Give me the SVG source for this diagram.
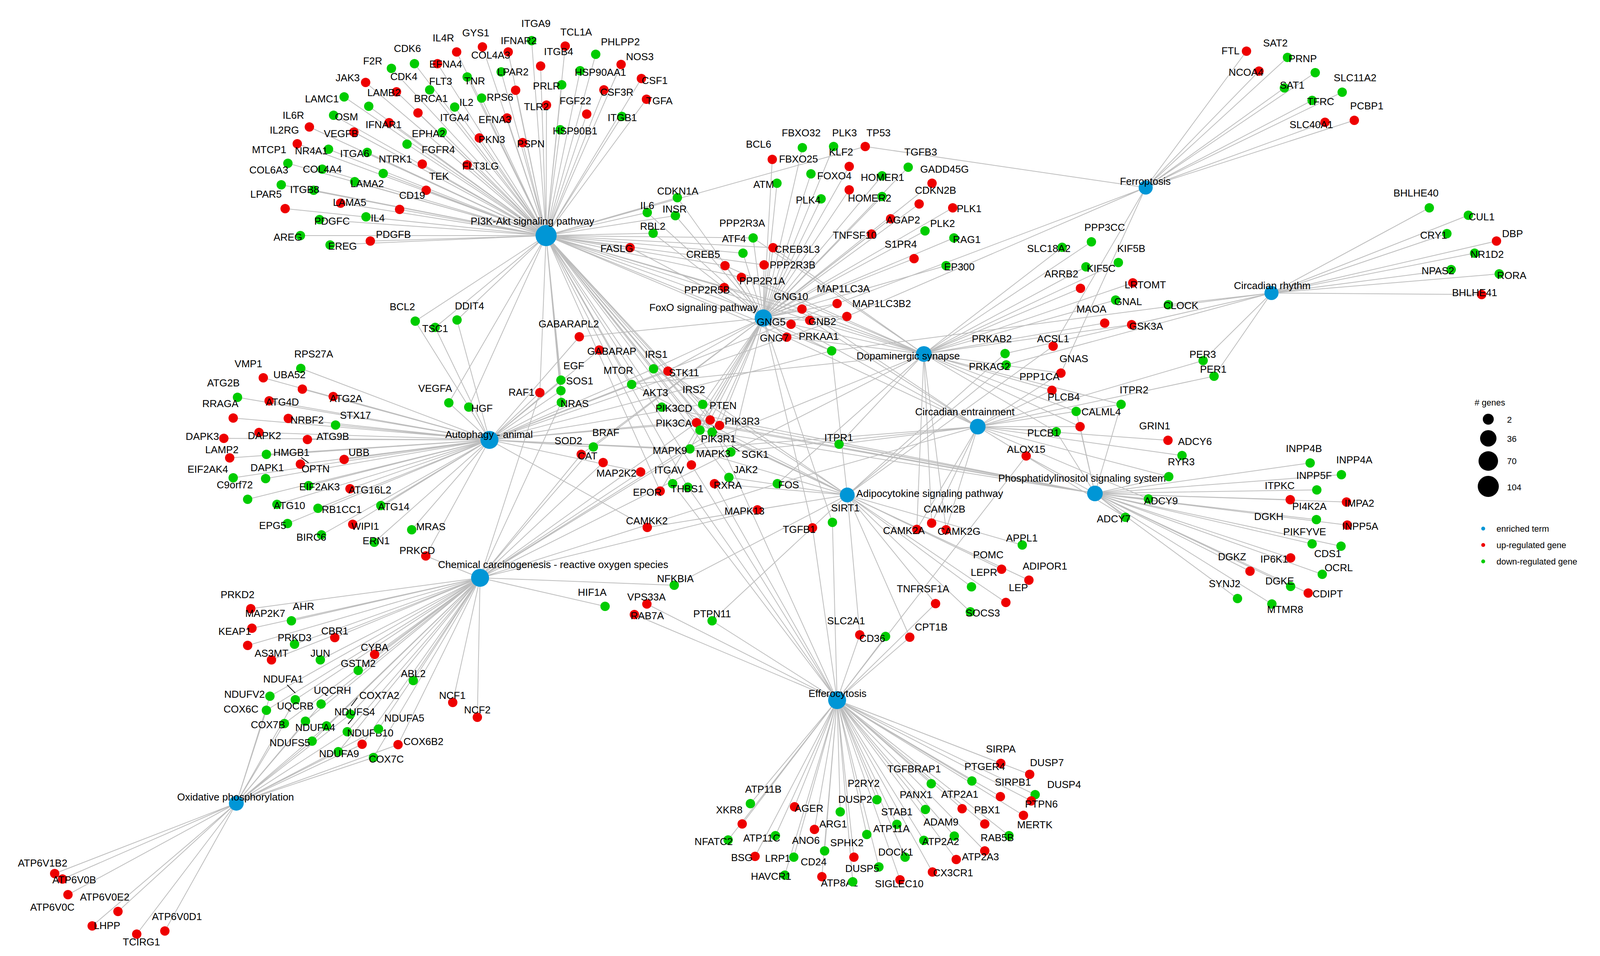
<svg xmlns="http://www.w3.org/2000/svg" width="4368" height="2447" viewBox="0 0 4368 2447">
<style>
text{font-family:"Liberation Sans",Arial,sans-serif;font-size:26px;text-anchor:middle;dominant-baseline:central;fill:#000}
.u{fill:#ee0000}.d{fill:#00cc00}.t{fill:#0096d6}
.e{stroke:#bdbdbd;stroke-width:2;fill:none}
.k{stroke:#000;stroke-width:2}
.lg text{text-anchor:start;font-size:22px}
</style>
<rect width="4368" height="2447" fill="#fff"/>
<g id="edges" class="e">
<path id="e-P" d="M1398 603L1169 133M1398 603L1235 120M1398 603L1301 133M1398 603L1447 118M1398 603L1384 169M1398 603L1590 165M1398 603L1120 163M1398 603L936 211M1398 603L1642 201M1398 603L1015 235M1398 603L1320 231M1398 603L1546 230M1398 603L1655 254M1398 603L1399 269M1398 603L1070 289M1398 603L1502 292M1398 603L1298 302M1398 603L996 314M1398 603L792 325M1398 603L906 338M1398 603L1227 353M1398 603L1338 365M1398 603L761 368M1398 603L1081 420M1398 603L1196 422M1398 603L1091 487M1398 603L1023 536M1398 603L872 520M1398 603L730 534M1398 603L948 617M1398 603L1613 634M1398 603L1361 104M1398 603L1525 139M1398 603L1061 163M1398 603L1002 175M1398 603L1283 184M1398 603L1485 181M1398 603L1196 197M1398 603L1438 217M1398 603L1100 230M1398 603L881 248M1398 603L944 272M1398 603L1233 251M1398 603L1164 274M1398 603L854 295M1398 603L1592 298M1398 603L1132 338M1398 603L1434 332M1398 603L1042 369M1398 603L841 382M1398 603L940 390M1398 603L737 418M1398 603L981 444M1398 603L825 433M1398 603L908 465M1398 603L720 473M1398 603L803 487M1398 603L937 555M1398 603L818 562M1398 603L769 603M1398 603L845 627M1398 603L1734 506M1398 603L1657 544M1398 603L1729 552M1398 603L1672 597M1398 603L1928 609M1398 603L1979 634M1398 603L1902 648M1398 603L1856 680M1398 603L1956 678M1398 603L1898 710M1398 603L1854 736M1398 603L2025 830M1398 603L2014 863M1398 603L2073 820M1398 603L2053 791M1398 603L1673 944M1398 603L1617 984M1398 603L1799 1035M1398 603L1694 1042M1398 603L1783 1082M1398 603L1818 1075M1398 603L1842 1089M1398 603L1792 1101M1398 603L1823 1106M1398 603L1063 822M1398 603L1200 1042M1398 603L1149 1031M1398 603L1436 973M1398 603L1436 1000M1398 603L1437 1030M1398 603L1382 1005M1398 603L1871 1157M1398 603L1770 1190M1398 603L1761 1247M1398 603L1722 1238M1398 603L1866 1222M1398 603L1690 1257M1398 603L1114 838M1398 603L1170 819M1398 603L2129 898M1398 603L2215 375"/>
<path id="e-F" d="M1954 814L2054 378M1954 814L2134 375M1954 814L1977 408M1954 814L2174 426M1954 814L2076 445M1954 814L1989 469M1954 814L2174 486M1954 814L2102 509M1954 814L2353 522M1954 814L2439 532M1954 814L2386 469M1954 814L2325 428M1954 814L2368 591M1954 814L2442 609M1954 814L1734 506M1954 814L1657 544M1954 814L1729 552M1954 814L1672 597M1954 814L1613 634M1954 814L1928 609M1954 814L1979 634M1954 814L1902 648M1954 814L1856 680M1954 814L1956 678M1954 814L1898 710M1954 814L1854 736M1954 814L2280 560M1954 814L2231 599M1954 814L2340 662M1954 814L2422 680M1954 814L2258 450M1954 814L2258 503M1954 814L2143 777M1954 814L2168 810M1954 814L2053 791M1954 814L2073 820M1954 814L2025 830M1954 814L2014 863M1954 814L2129 898M1954 814L1673 944M1954 814L1710 950M1954 814L1799 1035M1954 814L1783 1082M1954 814L1818 1075M1954 814L1842 1089M1954 814L1792 1101M1954 814L1823 1106M1954 814L1766 1149M1954 814L1871 1157M1954 814L2080 1351M1954 814L2131 1337M1954 814L1488 1163M1954 814L1519 1144M1954 814L1483 862M1954 814L1690 1257"/>
<path id="e-D" d="M2365 906L2025 830M2365 906L2014 863M2365 906L2073 820M2365 906L2053 791M2365 906L1898 710M2365 906L1854 736M2365 906L1856 680M2365 906L1928 609M2365 906L1979 634M2365 906L2693 999M2365 906L2716 955M2365 906L2704 1105M2365 906L2755 1053M2365 906L2148 1137M2365 906L2870 1035M2365 906L2863 672M2365 906L2780 683M2365 906L2719 633M2365 906L2794 619M2365 906L2766 738M2365 906L2856 768M2365 906L2828 827M2365 906L2897 831M2365 906L2900 724M2365 906L2385 1339M2365 906L2347 1355M2365 906L2422 1356M2365 906L1766 1149M2365 906L1871 1157M2365 906L1990 1238M2365 906L2765 1092M2365 906L1617 984"/>
<path id="e-CE" d="M2503 1092L2025 830M2503 1092L2014 863M2503 1092L2073 820M2503 1092L2053 791M2503 1092L2148 1137M2503 1092L2870 1035M2503 1092L3080 923M2503 1092L3108 963M2503 1092L2704 1105M2503 1092L2693 999M2503 1092L2716 955M2503 1092L2755 1053M2503 1092L2990 1127M2503 1092L3026 1166M2503 1092L2992 1220M2503 1092L2385 1339M2503 1092L2347 1355M2503 1092L2422 1356M2503 1092L1990 1238M2503 1092L1871 1157M2503 1092L2765 1092M2503 1092L2940 1277M2503 1092L2881 1324M2503 1092L1766 1149"/>
<path id="e-PS" d="M2803 1263L1783 1082M2803 1263L1694 1042M2803 1263L1823 1106M2803 1263L1842 1089M2803 1263L1818 1075M2803 1263L1792 1101M2803 1263L2148 1137M2803 1263L2870 1035M2803 1263L2704 1105M2803 1263L2765 1092M2803 1263L2755 1053M2803 1263L2627 1167M2803 1263L3354 1185M2803 1263L3434 1215M2803 1263L3371 1254M2803 1263L3303 1279M2803 1263L3447 1285M2803 1263L3370 1330M2803 1263L3449 1344M2803 1263L3359 1392M2803 1263L3433 1398M2803 1263L3385 1470M2803 1263L3304 1428M2803 1263L3200 1462M2803 1263L3304 1501M2803 1263L3349 1518M2803 1263L3256 1546M2803 1263L3168 1532M2803 1263L2992 1220M2803 1263L2940 1277M2803 1263L2881 1324"/>
<path id="e-A" d="M1253 1126L770 943M1253 1126L674 967M1253 1126L774 996M1253 1126L608 1017M1253 1126L853 1015M1253 1126L689 1026M1253 1126L597 1070M1253 1126L738 1071M1253 1126L859 1088M1253 1126L573 1122M1253 1126L663 1107M1253 1126L787 1125M1253 1126L588 1172M1253 1126L682 1163M1253 1126L881 1176M1253 1126L769 1188M1253 1126L680 1225M1253 1126L597 1223M1253 1126L790 1243M1253 1126L896 1251M1253 1126L634 1278M1253 1126L709 1291M1253 1126L814 1301M1253 1126L975 1294M1253 1126L736 1340M1253 1126L903 1342M1253 1126L1054 1356M1253 1126L823 1369M1253 1126L958 1388M1253 1126L1090 1423M1253 1126L1483 862M1253 1126L1534 896M1253 1126L1382 1005M1253 1126L1437 1030M1253 1126L1436 973M1253 1126L1436 1000M1253 1126L1617 984M1253 1126L1673 944M1253 1126L1710 950M1253 1126L1783 1082M1253 1126L1818 1075M1253 1126L1871 1157M1253 1126L1766 1149M1253 1126L2129 898M1253 1126L2143 777M1253 1126L2168 810M1253 1126L1063 822M1253 1126L1114 838M1253 1126L1170 819M1253 1126L1200 1042M1253 1126L1149 1031M1253 1126L1657 1350M1253 1126L1799 1035M1253 1126L1640 1208M1253 1126L1519 1144"/>
<path id="e-AD" d="M2169 1267L2129 898M2169 1267L2573 905M2169 1267L2576 934M2169 1267L2696 886M2169 1267L1657 1350M2169 1267L2395 1545M2169 1267L2487 1502M2169 1267L2575 1542M2169 1267L2564 1457M2169 1267L2634 1485M2169 1267L2617 1395M2169 1267L2484 1566M2169 1267L2329 1631M2169 1267L2201 1625M2169 1267L1726 1498M2169 1267L1823 1589M2169 1267L1829 1238M2169 1267L1866 1222M2169 1267L1766 1149M2169 1267L1673 944M2169 1267L1783 1082M2169 1267L1823 1106M2169 1267L1617 984M2169 1267L1710 950"/>
<path id="e-C" d="M1229 1479L642 1558M1229 1479L645 1608M1229 1479L746 1589M1229 1479L634 1652M1229 1479L754 1649M1229 1479L857 1632M1229 1479L695 1689M1229 1479L820 1689M1229 1479L959 1675M1229 1479L917 1716M1229 1479L1058 1742M1229 1479L756 1791M1229 1479L691 1782M1229 1479L822 1802M1229 1479L897 1828M1229 1479L889 1873M1229 1479L682 1818M1229 1479L728 1852M1229 1479L782 1846M1229 1479L836 1858M1229 1479L969 1866M1229 1479L799 1897M1229 1479L927 1905M1229 1479L1019 1906M1229 1479L866 1924M1229 1479L956 1939M1229 1479L1159 1798M1229 1479L1222 1836M1229 1479L1871 1157M1229 1479L1766 1149M1229 1479L1939 1305M1229 1479L1519 1144M1229 1479L1488 1163M1229 1479L1640 1208M1229 1479L1544 1184M1229 1479L1549 1552M1229 1479L1726 1498M1229 1479L1783 1082M1229 1479L1823 1106M1229 1479L1090 1423M1229 1479L1990 1238M1229 1479L1382 1005M1229 1479L1437 1030"/>
<path id="e-O" d="M605 2056L756 1791M605 2056L691 1782M605 2056L822 1802M605 2056L897 1828M605 2056L889 1873M605 2056L682 1818M605 2056L728 1852M605 2056L782 1846M605 2056L836 1858M605 2056L969 1866M605 2056L799 1897M605 2056L927 1905M605 2056L1019 1906M605 2056L866 1924M605 2056L956 1939M605 2056L140 2236M605 2056L160 2250M605 2056L174 2290M605 2056L302 2333M605 2056L236 2370M605 2056L350 2391M605 2056L422 2383"/>
<path id="e-E" d="M2143 1792L2562 1954M2143 1792L2636 1982M2143 1792L2488 1999M2143 1792L2561 2039M2143 1792L2650 2034M2143 1792L2384 2006M2143 1792L2245 2047M2143 1792L2640 2050M2143 1792L2369 2072M2143 1792L2463 2070M2143 1792L2620 2087M2143 1792L2521 2109M2143 1792L1921 2057M2143 1792L2151 2078M2143 1792L1900 2109M2143 1792L2034 2065M2143 1792L2296 2110M2143 1792L2443 2140M2143 1792L2085 2123M2143 1792L2219 2136M2143 1792L2583 2139M2143 1792L1864 2150M2143 1792L1985 2139M2143 1792L2111 2178M2143 1792L2365 2151M2143 1792L2521 2178M2143 1792L2448 2200M2143 1792L2317 2194M2143 1792L1933 2192M2143 1792L2032 2194M2143 1792L2186 2194M2143 1792L2250 2219M2143 1792L2387 2232M2143 1792L2009 2240M2143 1792L2104 2244M2143 1792L2183 2257M2143 1792L2304 2252M2143 1792L1624 1573M2143 1792L1656 1546M2143 1792L1823 1589M2143 1792L2201 1625M2143 1792L2267 1629M2143 1792L2329 1631M2143 1792L2080 1351M2143 1792L2131 1337M2143 1792L1770 1190M2143 1792L1761 1247M2143 1792L1829 1238M2143 1792L2627 1167M2143 1792L1799 1035M2143 1792L1722 1238M2143 1792L2395 1545"/>
<path id="e-FE" d="M2933 480L3191 131M2933 480L3296 147M2933 480L3223 182M2933 480L3367 186M2933 480L3436 236M2933 480L3288 225M2933 480L3359 257M2933 480L3467 308M2933 480L3392 313M2933 480L2215 375M2933 480L2696 886M2933 480L2716 955M2933 480L2143 777M2933 480L2168 810"/>
<path id="e-CR" d="M3255 750L3659 532M3255 750L3759 551M3255 750L3704 598M3255 750L3831 617M3255 750L3775 648M3255 750L3715 690M3255 750L3838 701M3255 750L3793 754M3255 750L2991 780M3255 750L3080 923M3255 750L3108 963M3255 750L2897 831M3255 750L2573 905M3255 750L2576 934M3255 750L2129 898"/>
</g>
<g id="leaders" class="k">
<line x1="735" y1="1753" x2="756" y2="1774"/><line x1="899" y1="1807" x2="915" y2="1786"/><line x1="891" y1="1853" x2="905" y2="1836"/><line x1="771" y1="1171" x2="790" y2="1185"/><line x1="1874" y1="1142" x2="1893" y2="1155"/><line x1="1826" y1="1091" x2="1836" y2="1107"/>
</g>
<g id="terms">
<g id="t-pi3k"><circle class="t" cx="1398" cy="603" r="27"/><text x="1363" y="566">PI3K-Akt signaling pathway</text></g>
<g id="t-foxo"><circle class="t" cx="1954" cy="814" r="22"/><text x="1801" y="787">FoxO signaling pathway</text></g>
<g id="t-dopa"><circle class="t" cx="2365" cy="906" r="20"/><text x="2325" y="911">Dopaminergic synapse</text></g>
<g id="t-circent"><circle class="t" cx="2503" cy="1092" r="20"/><text x="2470" y="1054">Circadian entrainment</text></g>
<g id="t-phos"><circle class="t" cx="2803" cy="1263" r="20"/><text x="2770" y="1224">Phosphatidylinositol signaling system</text></g>
<g id="t-adipo"><circle class="t" cx="2169" cy="1267" r="19"/><text x="2380" y="1263">Adipocytokine signaling pathway</text></g>
<g id="t-effero"><circle class="t" cx="2143" cy="1792" r="23"/><text x="2144" y="1775">Efferocytosis</text></g>
<g id="t-chem"><circle class="t" cx="1229" cy="1479" r="23"/><text x="1416" y="1445">Chemical carcinogenesis - reactive oxygen species</text></g>
<g id="t-auto"><circle class="t" cx="1253" cy="1126" r="23"/><text x="1252" y="1112">Autophagy - animal</text></g>
<g id="t-oxphos"><circle class="t" cx="605" cy="2056" r="19"/><text x="603" y="2040">Oxidative phosphorylation</text></g>
<g id="t-ferro"><circle class="t" cx="2933" cy="480" r="18"/><text x="2932" y="464">Ferroptosis</text></g>
<g id="t-circ"><circle class="t" cx="3255" cy="750" r="18"/><text x="3257" y="731">Circadian rhythm</text></g>
</g>
<g id="genes">
<g id="IL4R"><circle class="u" cx="1169" cy="133" r="12"/><text x="1135" y="97">IL4R</text></g>
<g id="GYS1"><circle class="u" cx="1235" cy="120" r="12"/><text x="1218" y="84">GYS1</text></g>
<g id="COL4A3"><circle class="u" cx="1301" cy="133" r="12"/><text x="1256" y="141">COL4A3</text></g>
<g id="TCL1A"><circle class="u" cx="1447" cy="118" r="12"/><text x="1475" y="82">TCL1A</text></g>
<g id="ITGB4"><circle class="u" cx="1384" cy="169" r="12"/><text x="1430" y="132">ITGB4</text></g>
<g id="NOS3"><circle class="u" cx="1590" cy="165" r="12"/><text x="1638" y="145">NOS3</text></g>
<g id="EFNA4"><circle class="u" cx="1120" cy="163" r="12"/><text x="1141" y="164">EFNA4</text></g>
<g id="JAK3"><circle class="u" cx="936" cy="211" r="12"/><text x="890" y="199">JAK3</text></g>
<g id="CSF1"><circle class="u" cx="1642" cy="201" r="12"/><text x="1676" y="206">CSF1</text></g>
<g id="LAMB2"><circle class="u" cx="1015" cy="235" r="12"/><text x="983" y="237">LAMB2</text></g>
<g id="p-r1"><circle class="u" cx="1320" cy="231" r="12"/></g>
<g id="CSF3R"><circle class="u" cx="1546" cy="230" r="12"/><text x="1579" y="236">CSF3R</text></g>
<g id="TGFA"><circle class="u" cx="1655" cy="254" r="12"/><text x="1688" y="258">TGFA</text></g>
<g id="TLR2"><circle class="u" cx="1399" cy="269" r="12"/><text x="1373" y="273">TLR2</text></g>
<g id="BRCA1"><circle class="u" cx="1070" cy="289" r="12"/><text x="1103" y="252">BRCA1</text></g>
<g id="FGF22"><circle class="u" cx="1502" cy="292" r="12"/><text x="1473" y="258">FGF22</text></g>
<g id="EFNA3"><circle class="u" cx="1298" cy="302" r="12"/><text x="1267" y="306">EFNA3</text></g>
<g id="IFNAR1"><circle class="u" cx="996" cy="314" r="12"/><text x="982" y="319">IFNAR1</text></g>
<g id="IL6R"><circle class="u" cx="792" cy="325" r="12"/><text x="751" y="295">IL6R</text></g>
<g id="VEGFB"><circle class="u" cx="906" cy="338" r="12"/><text x="873" y="342">VEGFB</text></g>
<g id="PKN3"><circle class="u" cx="1227" cy="353" r="12"/><text x="1259" y="357">PKN3</text></g>
<g id="PSPN"><circle class="u" cx="1338" cy="365" r="12"/><text x="1359" y="368">PSPN</text></g>
<g id="MTCP1"><circle class="u" cx="761" cy="368" r="12"/><text x="689" y="383">MTCP1</text></g>
<g id="NTRK1"><circle class="u" cx="1081" cy="420" r="12"/><text x="1012" y="407">NTRK1</text></g>
<g id="FLT3LG"><circle class="u" cx="1196" cy="422" r="12"/><text x="1230" y="425">FLT3LG</text></g>
<g id="CD19"><circle class="u" cx="1091" cy="487" r="12"/><text x="1055" y="500">CD19</text></g>
<g id="p-r2"><circle class="u" cx="1023" cy="536" r="12"/></g>
<g id="LAMA5"><circle class="u" cx="872" cy="520" r="12"/><text x="895" y="518">LAMA5</text></g>
<g id="LPAR5"><circle class="u" cx="730" cy="534" r="12"/><text x="681" y="497">LPAR5</text></g>
<g id="PDGFB"><circle class="u" cx="948" cy="617" r="12"/><text x="1007" y="600">PDGFB</text></g>
<g id="FASLG"><circle class="u" cx="1613" cy="634" r="12"/><text x="1579" y="636">FASLG</text></g>
<g id="ITGA9"><circle class="d" cx="1361" cy="104" r="12"/><text x="1372" y="60">ITGA9</text></g>
<g id="IFNAR2"><text x="1328" y="104">IFNAR2</text></g>
<g id="PHLPP2"><circle class="d" cx="1525" cy="139" r="12"/><text x="1588" y="107">PHLPP2</text></g>
<g id="CDK6"><circle class="d" cx="1061" cy="163" r="12"/><text x="1043" y="124">CDK6</text></g>
<g id="F2R"><circle class="d" cx="1002" cy="175" r="12"/><text x="954" y="156">F2R</text></g>
<g id="LPAR2"><circle class="d" cx="1283" cy="184" r="12"/><text x="1313" y="184">LPAR2</text></g>
<g id="HSP90AA1"><circle class="d" cx="1485" cy="181" r="12"/><text x="1537" y="185">HSP90AA1</text></g>
<g id="TNR"><circle class="d" cx="1196" cy="197" r="12"/><text x="1215" y="207">TNR</text></g>
<g id="PRLR"><circle class="d" cx="1438" cy="217" r="12"/><text x="1399" y="220">PRLR</text></g>
<g id="FLT3"><circle class="d" cx="1100" cy="230" r="12"/><text x="1128" y="208">FLT3</text></g>
<g id="CDK4"><text x="1034" y="196">CDK4</text></g>
<g id="LAMC1"><circle class="d" cx="881" cy="248" r="12"/><text x="824" y="253">LAMC1</text></g>
<g id="p-g1"><circle class="d" cx="944" cy="272" r="12"/></g>
<g id="RPS6"><circle class="d" cx="1233" cy="251" r="12"/><text x="1280" y="249">RPS6</text></g>
<g id="IL2"><circle class="d" cx="1164" cy="274" r="12"/><text x="1194" y="262">IL2</text></g>
<g id="OSM"><circle class="d" cx="854" cy="295" r="12"/><text x="887" y="299">OSM</text></g>
<g id="ITGA4"><text x="1164" y="301">ITGA4</text></g>
<g id="ITGB1"><circle class="d" cx="1592" cy="298" r="12"/><text x="1593" y="301">ITGB1</text></g>
<g id="IL2RG"><text x="728" y="333">IL2RG</text></g>
<g id="EPHA2"><circle class="d" cx="1132" cy="338" r="12"/><text x="1097" y="342">EPHA2</text></g>
<g id="HSP90B1"><circle class="d" cx="1434" cy="332" r="12"/><text x="1472" y="335">HSP90B1</text></g>
<g id="FGFR4"><circle class="d" cx="1042" cy="369" r="12"/><text x="1122" y="383">FGFR4</text></g>
<g id="NR4A1"><circle class="d" cx="841" cy="382" r="12"/><text x="797" y="386">NR4A1</text></g>
<g id="ITGA6"><circle class="d" cx="940" cy="390" r="12"/><text x="908" y="393">ITGA6</text></g>
<g id="COL6A3"><circle class="d" cx="737" cy="418" r="12"/><text x="688" y="435">COL6A3</text></g>
<g id="COL4A4"><circle class="d" cx="825" cy="433" r="12"/><text x="825" y="433">COL4A4</text></g>
<g id="p-g2"><circle class="d" cx="981" cy="444" r="12"/></g>
<g id="TEK"><text x="1124" y="451">TEK</text></g>
<g id="LAMA2"><circle class="d" cx="908" cy="465" r="12"/><text x="940" y="470">LAMA2</text></g>
<g id="p-g3"><circle class="d" cx="720" cy="473" r="12"/></g>
<g id="ITGB8"><circle class="d" cx="803" cy="487" r="12"/><text x="780" y="485">ITGB8</text></g>
<g id="IL4"><circle class="d" cx="937" cy="555" r="12"/><text x="967" y="558">IL4</text></g>
<g id="PDGFC"><circle class="d" cx="818" cy="562" r="12"/><text x="850" y="566">PDGFC</text></g>
<g id="AREG"><circle class="d" cx="769" cy="603" r="12"/><text x="737" y="607">AREG</text></g>
<g id="EREG"><circle class="d" cx="845" cy="627" r="12"/><text x="877" y="630">EREG</text></g>

<g id="FBXO32"><circle class="d" cx="2054" cy="378" r="12"/><text x="2051" y="340">FBXO32</text></g>
<g id="KLF2"><circle class="d" cx="2134" cy="375" r="12"/><text x="2153" y="389">KLF2</text></g>
<g id="PLK3"><text x="2162" y="340">PLK3</text></g>
<g id="TP53"><circle class="u" cx="2215" cy="375" r="12"/><text x="2249" y="340">TP53</text></g>
<g id="BCL6"><text x="1942" y="369">BCL6</text></g>
<g id="FBXO25"><circle class="u" cx="1977" cy="408" r="12"/><text x="2044" y="407">FBXO25</text></g>
<g id="TGFB3"><circle class="d" cx="2325" cy="428" r="12"/><text x="2357" y="389">TGFB3</text></g>
<g id="f-r1"><circle class="u" cx="2174" cy="426" r="12"/></g>
<g id="FOXO4"><circle class="d" cx="2076" cy="445" r="12"/><text x="2136" y="450">FOXO4</text></g>
<g id="ATM"><circle class="d" cx="1989" cy="469" r="12"/><text x="1955" y="472">ATM</text></g>
<g id="HOMER1"><circle class="d" cx="2258" cy="450" r="12"/><text x="2259" y="454">HOMER1</text></g>
<g id="GADD45G"><circle class="u" cx="2386" cy="469" r="12"/><text x="2418" y="433">GADD45G</text></g>
<g id="f-r2"><circle class="u" cx="2174" cy="486" r="12"/></g>
<g id="PLK4"><circle class="d" cx="2102" cy="509" r="12"/><text x="2069" y="512">PLK4</text></g>
<g id="HOMER2"><circle class="d" cx="2258" cy="503" r="12"/><text x="2226" y="507">HOMER2</text></g>
<g id="CDKN2B"><circle class="u" cx="2353" cy="522" r="12"/><text x="2395" y="487">CDKN2B</text></g>
<g id="PLK1"><circle class="u" cx="2439" cy="532" r="12"/><text x="2481" y="534">PLK1</text></g>
<g id="CDKN1A"><circle class="d" cx="1734" cy="506" r="12"/><text x="1735" y="489">CDKN1A</text></g>
<g id="IL6"><circle class="d" cx="1657" cy="544" r="12"/><text x="1657" y="526">IL6</text></g>
<g id="INSR"><circle class="d" cx="1729" cy="552" r="12"/><text x="1727" y="535">INSR</text></g>
<g id="AGAP2"><circle class="u" cx="2280" cy="560" r="12"/><text x="2312" y="563">AGAP2</text></g>
<g id="PLK2"><circle class="d" cx="2368" cy="591" r="12"/><text x="2413" y="572">PLK2</text></g>
<g id="RAG1"><circle class="d" cx="2442" cy="609" r="12"/><text x="2475" y="613">RAG1</text></g>
<g id="RBL2"><circle class="d" cx="1672" cy="597" r="12"/><text x="1671" y="579">RBL2</text></g>
<g id="PPP2R3A"><text x="1900" y="571">PPP2R3A</text></g>
<g id="ATF4"><circle class="d" cx="1928" cy="609" r="12"/><text x="1879" y="611">ATF4</text></g>
<g id="TNFSF10"><circle class="u" cx="2231" cy="599" r="12"/><text x="2188" y="602">TNFSF10</text></g>
<g id="S1PR4"><circle class="u" cx="2340" cy="662" r="12"/><text x="2306" y="625">S1PR4</text></g>
<g id="CREB3L3"><circle class="u" cx="1979" cy="634" r="12"/><text x="2041" y="638">CREB3L3</text></g>
<g id="f-g1"><circle class="d" cx="1902" cy="648" r="12"/></g>
<g id="CREB5"><circle class="u" cx="1856" cy="680" r="12"/><text x="1800" y="651">CREB5</text></g>
<g id="PPP2R3B"><circle class="u" cx="1956" cy="678" r="12"/><text x="2029" y="678">PPP2R3B</text></g>
<g id="EP300"><circle class="d" cx="2422" cy="680" r="12"/><text x="2456" y="683">EP300</text></g>
<g id="PPP2R1A"><circle class="u" cx="1898" cy="710" r="12"/><text x="1951" y="719">PPP2R1A</text></g>
<g id="PPP2R5B"><circle class="u" cx="1854" cy="736" r="12"/><text x="1810" y="742">PPP2R5B</text></g>
<g id="MAP1LC3A"><circle class="u" cx="2143" cy="777" r="12"/><text x="2159" y="739">MAP1LC3A</text></g>
<g id="MAP1LC3B2"><circle class="u" cx="2168" cy="810" r="12"/><text x="2257" y="777">MAP1LC3B2</text></g>
<g id="GNG10"><circle class="u" cx="2053" cy="791" r="12"/><text x="2025" y="759">GNG10</text></g>
<g id="GNB2"><circle class="u" cx="2073" cy="820" r="12"/><text x="2105" y="823">GNB2</text></g>
<g id="GNG5"><circle class="u" cx="2025" cy="830" r="12"/><text x="1974" y="824">GNG5</text></g>
<g id="GNG7"><circle class="u" cx="2014" cy="863" r="12"/><text x="1982" y="865">GNG7</text></g>
<g id="PRKAA1"><circle class="d" cx="2129" cy="898" r="12"/><text x="2096" y="861">PRKAA1</text></g>
<g id="IRS1"><circle class="d" cx="1673" cy="944" r="12"/><text x="1680" y="907">IRS1</text></g>
<g id="STK11"><circle class="u" cx="1710" cy="950" r="12"/><text x="1751" y="954">STK11</text></g>
<g id="MTOR"><circle class="d" cx="1617" cy="984" r="12"/><text x="1583" y="948">MTOR</text></g>
<g id="AKT3"><text x="1678" y="1005">AKT3</text></g>
<g id="IRS2"><text x="1776" y="997">IRS2</text></g>
<g id="PTEN"><circle class="d" cx="1799" cy="1035" r="12"/><text x="1851" y="1038">PTEN</text></g>
<g id="PIK3CD"><circle class="d" cx="1694" cy="1042" r="12"/><text x="1725" y="1045">PIK3CD</text></g>
<g id="PIK3CA"><circle class="u" cx="1783" cy="1082" r="12"/><text x="1725" y="1083">PIK3CA</text></g>
<g id="c-r1"><circle class="u" cx="1818" cy="1075" r="12"/></g>
<g id="PIK3R3"><circle class="u" cx="1842" cy="1089" r="12"/><text x="1900" y="1078">PIK3R3</text></g>
<g id="c-g1"><circle class="d" cx="1792" cy="1101" r="12"/></g>
<g id="PIK3R1"><circle class="d" cx="1823" cy="1106" r="12"/><text x="1839" y="1123">PIK3R1</text></g>
<g id="MAPK9"><circle class="d" cx="1766" cy="1149" r="12"/><text x="1715" y="1153">MAPK9</text></g>
<g id="MAPK3"><circle class="d" cx="1871" cy="1157" r="12"/><text x="1826" y="1161">MAPK3</text></g>
<g id="SGK1"><text x="1933" y="1163">SGK1</text></g>
<g id="ITPR1"><circle class="d" cx="2148" cy="1137" r="12"/><text x="2147" y="1120">ITPR1</text></g>
<g id="ITGAV"><circle class="u" cx="1770" cy="1190" r="12"/><text x="1713" y="1203">ITGAV</text></g>
<g id="MAP2K2"><circle class="u" cx="1640" cy="1208" r="12"/><text x="1578" y="1211">MAP2K2</text></g>
<g id="JAK2"><circle class="d" cx="1866" cy="1222" r="12"/><text x="1909" y="1202">JAK2</text></g>
<g id="c-g2"><circle class="d" cx="1722" cy="1238" r="12"/></g>
<g id="THBS1"><circle class="d" cx="1761" cy="1247" r="12"/><text x="1759" y="1251">THBS1</text></g>
<g id="RXRA"><circle class="u" cx="1829" cy="1238" r="12"/><text x="1863" y="1242">RXRA</text></g>
<g id="FOS"><circle class="d" cx="1990" cy="1238" r="12"/><text x="2019" y="1241">FOS</text></g>
<g id="EPOR"><circle class="u" cx="1690" cy="1257" r="12"/><text x="1657" y="1260">EPOR</text></g>
<g id="EGF"><circle class="d" cx="1436" cy="973" r="12"/><text x="1469" y="936">EGF</text></g>
<g id="SOS1"><circle class="d" cx="1436" cy="1000" r="12"/><text x="1484" y="975">SOS1</text></g>
<g id="NRAS"><circle class="d" cx="1437" cy="1030" r="12"/><text x="1471" y="1033">NRAS</text></g>
<g id="RAF1"><circle class="u" cx="1382" cy="1005" r="12"/><text x="1335" y="1004">RAF1</text></g>
<g id="BRAF"><text x="1551" y="1107">BRAF</text></g>
<g id="SOD2"><circle class="d" cx="1519" cy="1144" r="12"/><text x="1455" y="1128">SOD2</text></g>
<g id="CAT"><circle class="u" cx="1488" cy="1163" r="12"/><text x="1504" y="1167">CAT</text></g>
<g id="c-r2"><circle class="u" cx="1544" cy="1184" r="12"/></g>
<g id="CAMKK2"><circle class="u" cx="1657" cy="1350" r="12"/><text x="1656" y="1333">CAMKK2</text></g>
<g id="MAPK13"><circle class="u" cx="1939" cy="1305" r="12"/><text x="1906" y="1308">MAPK13</text></g>
<g id="SIRT1"><circle class="d" cx="2131" cy="1337" r="12"/><text x="2164" y="1300">SIRT1</text></g>
<g id="TGFB1"><circle class="u" cx="2080" cy="1351" r="12"/><text x="2046" y="1355">TGFB1</text></g>
<g id="NFKBIA"><circle class="d" cx="1726" cy="1498" r="12"/><text x="1729" y="1481">NFKBIA</text></g>
<g id="HIF1A"><circle class="d" cx="1549" cy="1552" r="12"/><text x="1516" y="1516">HIF1A</text></g>
<g id="VPS33A"><circle class="u" cx="1656" cy="1546" r="12"/><text x="1655" y="1528">VPS33A</text></g>
<g id="RAB7A"><circle class="u" cx="1624" cy="1573" r="12"/><text x="1657" y="1576">RAB7A</text></g>
<g id="PTPN11"><circle class="d" cx="1823" cy="1589" r="12"/><text x="1823" y="1571">PTPN11</text></g>
<g id="SLC2A1"><circle class="u" cx="2201" cy="1625" r="12"/><text x="2166" y="1589">SLC2A1</text></g>
<g id="CD36"><circle class="d" cx="2267" cy="1629" r="12"/><text x="2233" y="1634">CD36</text></g>
<g id="GABARAPL2"><circle class="u" cx="1483" cy="862" r="12"/><text x="1456" y="829">GABARAPL2</text></g>
<g id="GABARAP"><circle class="u" cx="1534" cy="896" r="12"/><text x="1566" y="899">GABARAP</text></g>

<g id="BCL2"><circle class="d" cx="1063" cy="822" r="12"/><text x="1030" y="785">BCL2</text></g>
<g id="DDIT4"><circle class="d" cx="1170" cy="819" r="12"/><text x="1202" y="783">DDIT4</text></g>
<g id="TSC1"><circle class="d" cx="1114" cy="838" r="12"/><text x="1114" y="841">TSC1</text></g>
<g id="VEGFA"><circle class="d" cx="1149" cy="1031" r="12"/><text x="1114" y="994">VEGFA</text></g>
<g id="HGF"><circle class="d" cx="1200" cy="1042" r="12"/><text x="1234" y="1045">HGF</text></g>
<g id="RPS27A"><circle class="d" cx="770" cy="943" r="12"/><text x="803" y="906">RPS27A</text></g>
<g id="VMP1"><circle class="u" cx="674" cy="967" r="12"/><text x="636" y="931">VMP1</text></g>
<g id="UBA52"><circle class="u" cx="774" cy="996" r="12"/><text x="741" y="959">UBA52</text></g>
<g id="ATG2B"><circle class="d" cx="608" cy="1017" r="12"/><text x="572" y="980">ATG2B</text></g>
<g id="ATG2A"><circle class="u" cx="853" cy="1015" r="12"/><text x="886" y="1020">ATG2A</text></g>
<g id="ATG4D"><circle class="u" cx="689" cy="1026" r="12"/><text x="723" y="1029">ATG4D</text></g>
<g id="RRAGA"><circle class="u" cx="597" cy="1070" r="12"/><text x="564" y="1033">RRAGA</text></g>
<g id="NRBF2"><circle class="u" cx="738" cy="1071" r="12"/><text x="786" y="1075">NRBF2</text></g>
<g id="STX17"><circle class="d" cx="859" cy="1088" r="12"/><text x="910" y="1063">STX17</text></g>
<g id="DAPK3"><circle class="u" cx="573" cy="1122" r="12"/><text x="518" y="1117">DAPK3</text></g>
<g id="DAPK2"><circle class="u" cx="663" cy="1107" r="12"/><text x="677" y="1115">DAPK2</text></g>
<g id="ATG9B"><circle class="u" cx="787" cy="1125" r="12"/><text x="852" y="1117">ATG9B</text></g>
<g id="LAMP2"><circle class="u" cx="588" cy="1172" r="12"/><text x="568" y="1151">LAMP2</text></g>
<g id="EIF2AK4"><text x="532" y="1201">EIF2AK4</text></g>
<g id="HMGB1"><circle class="d" cx="682" cy="1163" r="12"/><text x="746" y="1158">HMGB1</text></g>
<g id="UBB"><circle class="u" cx="881" cy="1176" r="12"/><text x="919" y="1158">UBB</text></g>
<g id="OPTN"><circle class="u" cx="769" cy="1188" r="12"/><text x="808" y="1200">OPTN</text></g>
<g id="DAPK1"><circle class="d" cx="680" cy="1225" r="12"/><text x="684" y="1197">DAPK1</text></g>
<g id="C9orf72"><circle class="d" cx="597" cy="1223" r="12"/><text x="601" y="1241">C9orf72</text></g>
<g id="EIF2AK3"><circle class="d" cx="790" cy="1243" r="12"/><text x="818" y="1246">EIF2AK3</text></g>
<g id="ATG16L2"><circle class="u" cx="896" cy="1251" r="12"/><text x="947" y="1254">ATG16L2</text></g>
<g id="a-g1"><circle class="d" cx="634" cy="1278" r="12"/></g>
<g id="ATG10"><circle class="d" cx="709" cy="1291" r="12"/><text x="741" y="1294">ATG10</text></g>
<g id="RB1CC1"><circle class="d" cx="814" cy="1301" r="12"/><text x="875" y="1304">RB1CC1</text></g>
<g id="ATG14"><circle class="d" cx="975" cy="1294" r="12"/><text x="1008" y="1297">ATG14</text></g>
<g id="EPG5"><circle class="d" cx="736" cy="1340" r="12"/><text x="698" y="1345">EPG5</text></g>
<g id="WIPI1"><circle class="u" cx="903" cy="1342" r="12"/><text x="935" y="1347">WIPI1</text></g>
<g id="MRAS"><circle class="d" cx="1054" cy="1356" r="12"/><text x="1103" y="1348">MRAS</text></g>
<g id="BIRC6"><circle class="d" cx="823" cy="1369" r="12"/><text x="797" y="1375">BIRC6</text></g>
<g id="ERN1"><circle class="d" cx="958" cy="1388" r="12"/><text x="963" y="1384">ERN1</text></g>
<g id="PRKCD"><circle class="u" cx="1090" cy="1423" r="12"/><text x="1068" y="1409">PRKCD</text></g>

<g id="PRKD2"><circle class="u" cx="642" cy="1558" r="12"/><text x="608" y="1522">PRKD2</text></g>
<g id="MAP2K7"><circle class="u" cx="645" cy="1608" r="12"/><text x="679" y="1570">MAP2K7</text></g>
<g id="AHR"><circle class="d" cx="746" cy="1589" r="12"/><text x="777" y="1552">AHR</text></g>
<g id="KEAP1"><circle class="u" cx="634" cy="1652" r="12"/><text x="601" y="1616">KEAP1</text></g>
<g id="PRKD3"><circle class="d" cx="754" cy="1649" r="12"/><text x="754" y="1632">PRKD3</text></g>
<g id="CBR1"><circle class="u" cx="857" cy="1632" r="12"/><text x="857" y="1615">CBR1</text></g>
<g id="AS3MT"><circle class="u" cx="695" cy="1689" r="12"/><text x="695" y="1672">AS3MT</text></g>
<g id="JUN"><circle class="d" cx="820" cy="1689" r="12"/><text x="820" y="1672">JUN</text></g>
<g id="CYBA"><circle class="u" cx="959" cy="1675" r="12"/><text x="959" y="1657">CYBA</text></g>
<g id="GSTM2"><circle class="d" cx="917" cy="1716" r="12"/><text x="917" y="1698">GSTM2</text></g>
<g id="ABL2"><circle class="d" cx="1058" cy="1742" r="12"/><text x="1058" y="1724">ABL2</text></g>
<g id="NDUFA1"><circle class="d" cx="756" cy="1791" r="12"/><text x="725" y="1738">NDUFA1</text></g>
<g id="NDUFV2"><circle class="d" cx="691" cy="1782" r="12"/><text x="626" y="1777">NDUFV2</text></g>
<g id="UQCRH"><circle class="d" cx="822" cy="1802" r="12"/><text x="851" y="1767">UQCRH</text></g>
<g id="COX7A2"><circle class="d" cx="897" cy="1828" r="12"/><text x="971" y="1780">COX7A2</text></g>
<g id="NDUFS4"><text x="908" y="1822">NDUFS4</text></g>
<g id="UQCRB"><text x="756" y="1807">UQCRB</text></g>
<g id="COX6C"><circle class="d" cx="682" cy="1818" r="12"/><text x="617" y="1815">COX6C</text></g>
<g id="COX7B"><circle class="d" cx="728" cy="1852" r="12"/><text x="686" y="1855">COX7B</text></g>
<g id="o-g1"><circle class="d" cx="782" cy="1846" r="12"/></g>
<g id="NDUFA4"><circle class="d" cx="836" cy="1858" r="12"/><text x="807" y="1862">NDUFA4</text></g>
<g id="NDUFB10"><circle class="d" cx="889" cy="1873" r="12"/><text x="948" y="1876">NDUFB10</text></g>
<g id="NDUFA5"><circle class="d" cx="969" cy="1866" r="12"/><text x="1035" y="1838">NDUFA5</text></g>
<g id="NDUFS5"><circle class="d" cx="799" cy="1897" r="12"/><text x="742" y="1901">NDUFS5</text></g>
<g id="o-r1"><circle class="u" cx="927" cy="1905" r="12"/></g>
<g id="COX6B2"><circle class="u" cx="1019" cy="1906" r="12"/><text x="1084" y="1898">COX6B2</text></g>
<g id="NDUFA9"><circle class="d" cx="866" cy="1924" r="12"/><text x="868" y="1929">NDUFA9</text></g>
<g id="COX7C"><circle class="d" cx="956" cy="1939" r="12"/><text x="989" y="1943">COX7C</text></g>
<g id="NCF1"><circle class="u" cx="1159" cy="1798" r="12"/><text x="1158" y="1780">NCF1</text></g>
<g id="NCF2"><circle class="u" cx="1222" cy="1836" r="12"/><text x="1222" y="1817">NCF2</text></g>
<g id="ATP6V1B2"><circle class="u" cx="140" cy="2236" r="12"/><text x="109" y="2209">ATP6V1B2</text></g>
<g id="ATP6V0B"><circle class="u" cx="160" cy="2250" r="12"/><text x="190" y="2252">ATP6V0B</text></g>
<g id="ATP6V0C"><circle class="u" cx="174" cy="2290" r="12"/><text x="134" y="2322">ATP6V0C</text></g>
<g id="ATP6V0E2"><circle class="u" cx="302" cy="2333" r="12"/><text x="268" y="2296">ATP6V0E2</text></g>
<g id="LHPP"><circle class="u" cx="236" cy="2370" r="12"/><text x="274" y="2369">LHPP</text></g>
<g id="TCIRG1"><circle class="u" cx="350" cy="2391" r="12"/><text x="362" y="2411">TCIRG1</text></g>
<g id="ATP6V0D1"><circle class="u" cx="422" cy="2383" r="12"/><text x="453" y="2346">ATP6V0D1</text></g>

<g id="SIRPA"><circle class="u" cx="2562" cy="1954" r="12"/><text x="2562" y="1917">SIRPA</text></g>
<g id="DUSP7"><circle class="u" cx="2636" cy="1982" r="12"/><text x="2680" y="1952">DUSP7</text></g>
<g id="PTGER4"><circle class="d" cx="2488" cy="1999" r="12"/><text x="2521" y="1962">PTGER4</text></g>
<g id="SIRPB1"><circle class="u" cx="2561" cy="2039" r="12"/><text x="2593" y="2002">SIRPB1</text></g>
<g id="DUSP4"><circle class="d" cx="2650" cy="2034" r="12"/><text x="2724" y="2008">DUSP4</text></g>
<g id="TGFBRAP1"><circle class="d" cx="2384" cy="2006" r="12"/><text x="2340" y="1968">TGFBRAP1</text></g>
<g id="P2RY2"><circle class="d" cx="2245" cy="2047" r="12"/><text x="2211" y="2005">P2RY2</text></g>
<g id="PTPN6"><circle class="u" cx="2640" cy="2050" r="12"/><text x="2666" y="2058">PTPN6</text></g>
<g id="PANX1"><circle class="d" cx="2369" cy="2072" r="12"/><text x="2345" y="2034">PANX1</text></g>
<g id="ATP2A1"><circle class="u" cx="2463" cy="2070" r="12"/><text x="2457" y="2033">ATP2A1</text></g>
<g id="MERTK"><circle class="u" cx="2620" cy="2087" r="12"/><text x="2649" y="2111">MERTK</text></g>
<g id="PBX1"><circle class="u" cx="2521" cy="2109" r="12"/><text x="2527" y="2073">PBX1</text></g>
<g id="ATP11B"><circle class="d" cx="1921" cy="2057" r="12"/><text x="1954" y="2020">ATP11B</text></g>
<g id="DUSP2"><circle class="d" cx="2151" cy="2078" r="12"/><text x="2189" y="2046">DUSP2</text></g>
<g id="XKR8"><circle class="u" cx="1900" cy="2109" r="12"/><text x="1867" y="2073">XKR8</text></g>
<g id="AGER"><circle class="u" cx="2034" cy="2065" r="12"/><text x="2071" y="2069">AGER</text></g>
<g id="STAB1"><circle class="d" cx="2296" cy="2110" r="12"/><text x="2296" y="2078">STAB1</text></g>
<g id="ADAM9"><circle class="d" cx="2443" cy="2140" r="12"/><text x="2409" y="2104">ADAM9</text></g>
<g id="ARG1"><circle class="u" cx="2085" cy="2123" r="12"/><text x="2133" y="2109">ARG1</text></g>
<g id="ATP11A"><circle class="d" cx="2219" cy="2136" r="12"/><text x="2282" y="2121">ATP11A</text></g>
<g id="RAB5B"><circle class="d" cx="2583" cy="2139" r="12"/><text x="2553" y="2144">RAB5B</text></g>
<g id="NFATC2"><circle class="d" cx="1864" cy="2150" r="12"/><text x="1827" y="2154">NFATC2</text></g>
<g id="ATP11C"><circle class="d" cx="1985" cy="2139" r="12"/><text x="1950" y="2145">ATP11C</text></g>
<g id="ANO6"><text x="2063" y="2151">ANO6</text></g>
<g id="SPHK2"><circle class="d" cx="2111" cy="2178" r="12"/><text x="2168" y="2157">SPHK2</text></g>
<g id="ATP2A2"><circle class="d" cx="2365" cy="2151" r="12"/><text x="2408" y="2154">ATP2A2</text></g>
<g id="ATP2A3"><circle class="u" cx="2521" cy="2178" r="12"/><text x="2510" y="2193">ATP2A3</text></g>
<g id="e-r1"><circle class="u" cx="2448" cy="2200" r="12"/></g>
<g id="DOCK1"><circle class="d" cx="2317" cy="2194" r="12"/><text x="2293" y="2181">DOCK1</text></g>
<g id="BSG"><circle class="u" cx="1933" cy="2192" r="12"/><text x="1899" y="2195">BSG</text></g>
<g id="LRP1"><circle class="d" cx="2032" cy="2194" r="12"/><text x="1991" y="2197">LRP1</text></g>
<g id="CD24"><text x="2083" y="2206">CD24</text></g>
<g id="e-r2"><circle class="u" cx="2186" cy="2194" r="12"/></g>
<g id="DUSP5"><circle class="d" cx="2250" cy="2219" r="12"/><text x="2207" y="2223">DUSP5</text></g>
<g id="CX3CR1"><circle class="u" cx="2387" cy="2232" r="12"/><text x="2440" y="2234">CX3CR1</text></g>
<g id="HAVCR1"><circle class="d" cx="2009" cy="2240" r="12"/><text x="1974" y="2243">HAVCR1</text></g>
<g id="ATP8A1"><circle class="u" cx="2104" cy="2244" r="12"/><text x="2149" y="2260">ATP8A1</text></g>
<g id="e-g1"><circle class="d" cx="2183" cy="2257" r="12"/></g>
<g id="SIGLEC10"><circle class="u" cx="2304" cy="2252" r="12"/><text x="2302" y="2262">SIGLEC10</text></g>

<g id="GSK3A"><circle class="u" cx="2897" cy="831" r="12"/><text x="2934" y="835">GSK3A</text></g>
<g id="MAOA"><circle class="u" cx="2828" cy="827" r="12"/><text x="2794" y="791">MAOA</text></g>
<g id="PRKAB2"><circle class="d" cx="2573" cy="905" r="12"/><text x="2539" y="867">PRKAB2</text></g>
<g id="ACSL1"><circle class="u" cx="2696" cy="886" r="12"/><text x="2696" y="867">ACSL1</text></g>
<g id="PRKAG2"><circle class="d" cx="2576" cy="934" r="12"/><text x="2533" y="938">PRKAG2</text></g>
<g id="GNAS"><circle class="u" cx="2716" cy="955" r="12"/><text x="2749" y="918">GNAS</text></g>
<g id="PPP1CA"><circle class="u" cx="2693" cy="999" r="12"/><text x="2661" y="964">PPP1CA</text></g>
<g id="PLCB4"><circle class="u" cx="2765" cy="1092" r="12"/><text x="2723" y="1016">PLCB4</text></g>
<g id="CALML4"><circle class="d" cx="2755" cy="1053" r="12"/><text x="2819" y="1054">CALML4</text></g>
<g id="ITPR2"><circle class="d" cx="2870" cy="1035" r="12"/><text x="2903" y="998">ITPR2</text></g>
<g id="PER3"><circle class="d" cx="3080" cy="923" r="12"/><text x="3079" y="907">PER3</text></g>
<g id="PER1"><circle class="d" cx="3108" cy="963" r="12"/><text x="3106" y="945">PER1</text></g>
<g id="GRIN1"><text x="2956" y="1090">GRIN1</text></g>
<g id="ADCY6"><circle class="u" cx="2990" cy="1127" r="12"/><text x="3059" y="1130">ADCY6</text></g>
<g id="PLCB1"><circle class="d" cx="2704" cy="1105" r="12"/><text x="2671" y="1108">PLCB1</text></g>
<g id="ALOX15"><circle class="u" cx="2627" cy="1167" r="12"/><text x="2627" y="1150">ALOX15</text></g>
<g id="RYR3"><circle class="d" cx="3026" cy="1166" r="12"/><text x="3024" y="1182">RYR3</text></g>
<g id="ps-g1"><circle class="d" cx="2992" cy="1220" r="12"/></g>
<g id="ADCY9"><circle class="d" cx="2940" cy="1277" r="12"/><text x="2972" y="1282">ADCY9</text></g>
<g id="ADCY7"><circle class="d" cx="2881" cy="1324" r="12"/><text x="2851" y="1328">ADCY7</text></g>
<g id="CAMK2B"><circle class="u" cx="2385" cy="1339" r="12"/><text x="2418" y="1303">CAMK2B</text></g>
<g id="CAMK2A"><circle class="u" cx="2347" cy="1355" r="12"/><text x="2314" y="1358">CAMK2A</text></g>
<g id="CAMK2G"><circle class="u" cx="2422" cy="1356" r="12"/><text x="2455" y="1360">CAMK2G</text></g>
<g id="APPL1"><circle class="d" cx="2617" cy="1395" r="12"/><text x="2616" y="1377">APPL1</text></g>
<g id="POMC"><circle class="u" cx="2564" cy="1457" r="12"/><text x="2530" y="1420">POMC</text></g>
<g id="ADIPOR1"><circle class="u" cx="2634" cy="1485" r="12"/><text x="2675" y="1449">ADIPOR1</text></g>
<g id="LEPR"><circle class="d" cx="2487" cy="1502" r="12"/><text x="2519" y="1465">LEPR</text></g>
<g id="LEP"><circle class="u" cx="2575" cy="1542" r="12"/><text x="2607" y="1504">LEP</text></g>
<g id="TNFRSF1A"><circle class="u" cx="2395" cy="1545" r="12"/><text x="2363" y="1507">TNFRSF1A</text></g>
<g id="SOCS3"><circle class="d" cx="2484" cy="1566" r="12"/><text x="2516" y="1569">SOCS3</text></g>
<g id="CPT1B"><circle class="u" cx="2329" cy="1631" r="12"/><text x="2384" y="1605">CPT1B</text></g>
<g id="DGKZ"><circle class="u" cx="3200" cy="1462" r="12"/><text x="3154" y="1425">DGKZ</text></g>
<g id="SYNJ2"><circle class="d" cx="3168" cy="1532" r="12"/><text x="3135" y="1494">SYNJ2</text></g>

<g id="FTL"><circle class="u" cx="3191" cy="131" r="12"/><text x="3150" y="130">FTL</text></g>
<g id="SAT2"><text x="3265" y="110">SAT2</text></g>
<g id="PRNP"><circle class="d" cx="3296" cy="147" r="12"/><text x="3335" y="150">PRNP</text></g>
<g id="NCOA4"><circle class="u" cx="3223" cy="182" r="12"/><text x="3190" y="185">NCOA4</text></g>
<g id="fe-g1"><circle class="d" cx="3367" cy="186" r="12"/></g>
<g id="SLC11A2"><circle class="d" cx="3436" cy="236" r="12"/><text x="3469" y="199">SLC11A2</text></g>
<g id="SAT1"><circle class="d" cx="3288" cy="225" r="12"/><text x="3308" y="218">SAT1</text></g>
<g id="TFRC"><circle class="d" cx="3359" cy="257" r="12"/><text x="3381" y="260">TFRC</text></g>
<g id="PCBP1"><circle class="u" cx="3467" cy="308" r="12"/><text x="3499" y="271">PCBP1</text></g>
<g id="SLC40A1"><circle class="u" cx="3392" cy="313" r="12"/><text x="3357" y="319">SLC40A1</text></g>
<g id="PPP3CC"><circle class="d" cx="2794" cy="619" r="12"/><text x="2828" y="582">PPP3CC</text></g>
<g id="SLC18A2"><circle class="d" cx="2719" cy="633" r="12"/><text x="2685" y="636">SLC18A2</text></g>
<g id="KIF5B"><circle class="d" cx="2863" cy="672" r="12"/><text x="2896" y="636">KIF5B</text></g>
<g id="KIF5C"><circle class="d" cx="2780" cy="683" r="12"/><text x="2819" y="687">KIF5C</text></g>
<g id="ARRB2"><circle class="u" cx="2766" cy="738" r="12"/><text x="2717" y="701">ARRB2</text></g>
<g id="LRTOMT"><circle class="u" cx="2900" cy="724" r="12"/><text x="2932" y="729">LRTOMT</text></g>
<g id="GNAL"><circle class="d" cx="2856" cy="768" r="12"/><text x="2888" y="772">GNAL</text></g>
<g id="CLOCK"><circle class="d" cx="2991" cy="780" r="12"/><text x="3023" y="782">CLOCK</text></g>

<g id="BHLHE40"><circle class="d" cx="3659" cy="532" r="12"/><text x="3625" y="494">BHLHE40</text></g>
<g id="CUL1"><circle class="d" cx="3759" cy="551" r="12"/><text x="3793" y="555">CUL1</text></g>
<g id="CRY1"><circle class="d" cx="3704" cy="598" r="12"/><text x="3670" y="602">CRY1</text></g>
<g id="DBP"><circle class="u" cx="3831" cy="617" r="12"/><text x="3872" y="598">DBP</text></g>
<g id="NR1D2"><circle class="d" cx="3775" cy="648" r="12"/><text x="3807" y="651">NR1D2</text></g>
<g id="NPAS2"><circle class="d" cx="3715" cy="690" r="12"/><text x="3681" y="693">NPAS2</text></g>
<g id="RORA"><circle class="d" cx="3838" cy="701" r="12"/><text x="3870" y="705">RORA</text></g>
<g id="BHLHE41"><circle class="u" cx="3793" cy="754" r="12"/><text x="3775" y="749">BHLHE41</text></g>

<g id="INPP4B"><circle class="d" cx="3354" cy="1185" r="12"/><text x="3338" y="1148">INPP4B</text></g>
<g id="INPP4A"><circle class="d" cx="3434" cy="1215" r="12"/><text x="3467" y="1177">INPP4A</text></g>
<g id="INPP5F"><text x="3364" y="1217">INPP5F</text></g>
<g id="ITPKC"><circle class="d" cx="3371" cy="1254" r="12"/><text x="3276" y="1243">ITPKC</text></g>
<g id="PI4K2A"><circle class="u" cx="3303" cy="1279" r="12"/><text x="3352" y="1296">PI4K2A</text></g>
<g id="IMPA2"><circle class="u" cx="3447" cy="1285" r="12"/><text x="3480" y="1288">IMPA2</text></g>
<g id="DGKH"><text x="3248" y="1322">DGKH</text></g>
<g id="PIKFYVE"><circle class="d" cx="3370" cy="1330" r="12"/><text x="3340" y="1361">PIKFYVE</text></g>
<g id="INPP5A"><circle class="u" cx="3449" cy="1344" r="12"/><text x="3482" y="1347">INPP5A</text></g>
<g id="ps-g2"><circle class="d" cx="3359" cy="1392" r="12"/></g>
<g id="CDS1"><circle class="d" cx="3433" cy="1398" r="12"/><text x="3399" y="1417">CDS1</text></g>
<g id="IP6K1"><circle class="u" cx="3304" cy="1428" r="12"/><text x="3262" y="1431">IP6K1</text></g>
<g id="OCRL"><circle class="d" cx="3385" cy="1470" r="12"/><text x="3427" y="1453">OCRL</text></g>
<g id="DGKE"><circle class="d" cx="3304" cy="1501" r="12"/><text x="3276" y="1487">DGKE</text></g>
<g id="CDIPT"><circle class="u" cx="3349" cy="1518" r="12"/><text x="3399" y="1520">CDIPT</text></g>
<g id="MTMR8"><circle class="d" cx="3256" cy="1546" r="12"/><text x="3290" y="1560">MTMR8</text></g>
</g>
<g id="legend" class="lg" transform="translate(-260,0)">
<text x="4035" y="1030"># genes</text>
<circle cx="4070" cy="1073" r="14"/><text x="4118" y="1074">2</text>
<circle cx="4070" cy="1122" r="21"/><text x="4118" y="1123">36</text>
<circle cx="4070" cy="1180" r="25"/><text x="4118" y="1180">70</text>
<circle cx="4070" cy="1245" r="27"/><text x="4118" y="1247">104</text>
<circle class="t" cx="4057" cy="1353" r="5"/><text x="4091" y="1353">enriched term</text>
<circle class="u" cx="4057" cy="1395" r="5"/><text x="4091" y="1395">up-regulated gene</text>
<circle class="d" cx="4057" cy="1437" r="5"/><text x="4091" y="1437">down-regulated gene</text>
</g>
</svg>
